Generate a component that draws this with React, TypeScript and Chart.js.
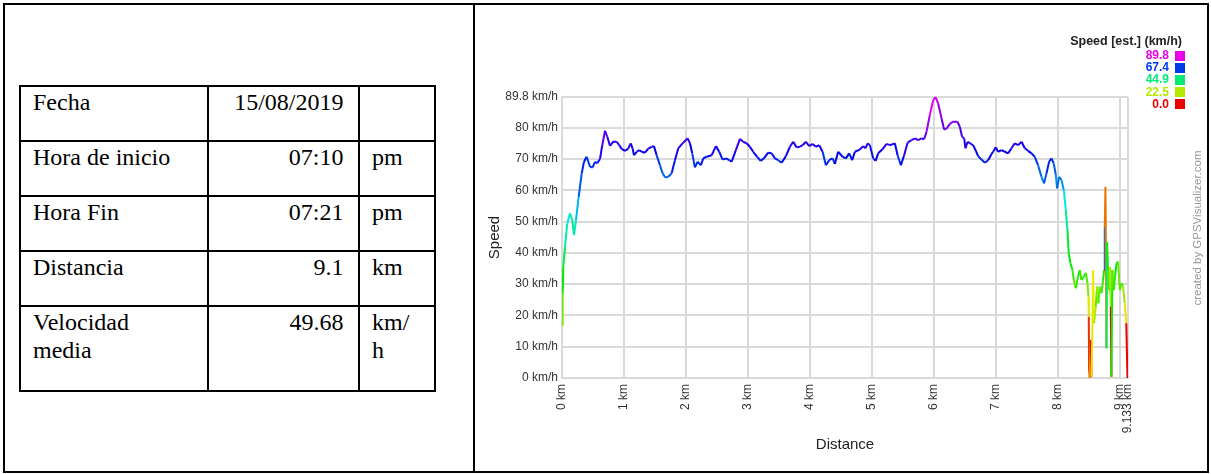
import React, { useEffect, useRef } from "react";
import { Chart, registerables } from "chart.js";

Chart.register(...registerables);

// ---- Table data ----
const tableLabels = ["Fecha", "Hora de inicio", "Hora Fin", "Distancia", "Velocidad\nmedia"];
const tableValues = ["15/08/2019", "07:10", "07:21", "9.1", "49.68"];
const tableUnits = ["", "pm", "pm", "km", "km/\nh"];

// ---- Chart data ----
const distanceKm = [
  0, 0.011, 0.021, 0.048, 0.085, 0.129, 0.166, 0.194, 0.226, 0.269,
  0.318, 0.355, 0.398, 0.452, 0.495, 0.532, 0.569, 0.613, 0.65, 0.694,
  0.731, 0.774, 0.827, 0.882, 0.924, 0.963, 1.016, 1.069, 1.108, 1.14,
  1.161, 1.205, 1.247, 1.285, 1.339, 1.392, 1.447, 1.484, 1.527, 1.581,
  1.624, 1.666, 1.715, 1.769, 1.823, 1.876, 1.956, 2.027, 2.065, 2.102,
  2.145, 2.189, 2.242, 2.279, 2.334, 2.415, 2.484, 2.537, 2.592, 2.645,
  2.698, 2.737, 2.806, 2.871, 2.924, 2.979, 3.032, 3.085, 3.15, 3.205,
  3.258, 3.327, 3.382, 3.435, 3.489, 3.544, 3.613, 3.677, 3.731, 3.785,
  3.839, 3.882, 3.935, 3.989, 4.044, 4.097, 4.15, 4.205, 4.258, 4.311,
  4.366, 4.403, 4.456, 4.527, 4.581, 4.634, 4.682, 4.726, 4.806, 4.86,
  4.898, 4.931, 4.968, 5.021, 5.06, 5.102, 5.166, 5.237, 5.29, 5.371,
  5.415, 5.468, 5.521, 5.576, 5.64, 5.694, 5.747, 5.802, 5.844, 5.882,
  5.935, 5.989, 6.027, 6.069, 6.124, 6.166, 6.205, 6.258, 6.311, 6.382,
  6.419, 6.456, 6.489, 6.511, 6.544, 6.597, 6.634, 6.673, 6.715, 6.769,
  6.823, 6.876, 6.931, 6.956, 7.0, 7.037, 7.092, 7.145, 7.198, 7.253,
  7.306, 7.36, 7.415, 7.468, 7.521, 7.576, 7.629, 7.682, 7.737, 7.779,
  7.818, 7.86, 7.898, 7.935, 7.968, 7.989, 8.021, 8.06, 8.097, 8.129,
  8.156, 8.177, 8.205, 8.237, 8.258, 8.29, 8.327, 8.355, 8.382, 8.419,
  8.452, 8.479, 8.495, 8.5, 8.505, 8.516, 8.532, 8.544, 8.56, 8.569,
  8.585, 8.613, 8.634, 8.656, 8.677, 8.705, 8.731, 8.747, 8.758, 8.769,
  8.779, 8.785, 8.795, 8.811, 8.827, 8.839, 8.855, 8.866, 8.881, 8.903,
  8.924, 8.947, 8.973, 9.0, 9.027, 9.053, 9.081, 9.105, 9.125,
];
const speedKmh = [
  17, 27, 35.5, 42, 49.4, 52.6, 50.5, 45.7, 50.5, 57.9,
  65.4, 69.1, 70.7, 67.5, 67.3, 69.1, 68.6, 70, 74.4, 79,
  77.1, 74.2, 75.5, 75.5, 74.4, 73.2, 72.6, 73.3, 75, 73.3,
  71.2, 72.3, 72.8, 72.3, 72, 73.3, 73.9, 74.1, 71.2, 68,
  65.4, 64.1, 64.3, 65.4, 69.6, 73.4, 75.2, 76.6, 75, 71.8,
  67.3, 69.1, 68, 70.2, 70.7, 71.2, 74.1, 72.3, 69.8, 70.2,
  69.6, 69.1, 72.8, 76.4, 75.5, 75, 73.9, 72.3, 70.7, 69.4,
  70.2, 72, 71.8, 70.2, 69.6, 68.8, 70.9, 73.9, 75.5, 73.7,
  73.9, 74.4, 75.5, 74.1, 74.8, 73.9, 74.4, 72.3, 68, 69.6,
  70.2, 68.4, 72.3, 70.7, 70.2, 71.8, 69.6, 72.3, 73, 74.1,
  73.4, 75, 74.4, 70.2, 69.4, 71.8, 73, 74.8, 74.4, 75,
  71.2, 68, 71.2, 75.2, 76, 76.6, 76, 76.6, 76.3, 78.7,
  84, 88.8, 89.8, 87.8, 83, 79.4, 79.7, 81.2, 81.9, 81.9,
  80.3, 77.1, 76.6, 73.4, 75.5, 74.8, 74.4, 72.8, 70.9, 69.8,
  68.8, 69.6, 71.6, 72.3, 73.7, 72.3, 72.8, 72.3, 71.8, 73.4,
  75, 74.4, 75.5, 73.4, 72.6, 71.8, 70.7, 68, 64.3, 62.2,
  65.4, 69.1, 70.2, 68.6, 64.9, 60.6, 64.3, 63.3, 60.1, 53.7,
  47.3, 39.8, 36.6, 34.5, 31.3, 28.7, 32.4, 34.5, 31.3, 32.4,
  33.6, 30.3, 26, 19.6, 3.6, 0, 12.1, 0.4, 17.5, 34.5,
  17.5, 22.8, 29.2, 23.9, 29.2, 27.1, 31.3, 34.5, 48.3, 61.1,
  35.5, 9.5, 43.5, 34.5, 28.1, 35.5, 22.8, 0.4, 34.5, 28.1,
  32.4, 36.6, 37.2, 28.1, 30.3, 29.2, 23.9, 17.5, 0,
];
// estimated speed used for colouring where it differs from the plotted value
const colorOverrideKm = [8.569, 8.758, 8.769];
const colorOverrideSpeed = [18, 63, 9];

const xTicks = [0, 1, 2, 3, 4, 5, 6, 7, 8, 9, 9.133];
const yTicks = [0, 10, 20, 30, 40, 50, 60, 70, 80, 89.8];
const legendValues = [89.8, 67.4, 44.9, 22.5, 0.0];
const maxSpeed = 89.8;

function speedColor(v: number): string {
  const t = Math.max(0, Math.min(1, v / maxSpeed));
  return `hsl(${Math.round(t * 300)}, 100%, 46%)`;
}

const SANS = "'Liberation Sans', Arial, sans-serif";
const SERIF = "'Liberation Serif', 'Times New Roman', serif";

function Line({ x, y, w, h }: { x: number; y: number; w: number; h: number }) {
  return <div style={{ position: "absolute", left: x, top: y, width: w, height: h, background: "#000" }} />;
}

function TextBlock({ text, left, right, top }: { text: string; left?: number; right?: number; top: number }) {
  const lines = text.split("\n");
  const style: React.CSSProperties = {
    position: "absolute",
    top,
    fontFamily: SERIF,
    fontSize: 24,
    lineHeight: "28px",
    color: "#000",
    whiteSpace: "nowrap",
  };
  if (left !== undefined) style.left = left;
  if (right !== undefined) {
    style.left = right - 300;
    style.width = 300;
    style.textAlign = "right";
  }
  return (
    <div style={style}>
      {lines.map((l, i) => (
        <div key={i}>{l}</div>
      ))}
    </div>
  );
}

export default function App() {
  const canvasRef = useRef<HTMLCanvasElement | null>(null);

  useEffect(() => {
    const canvas = canvasRef.current;
    if (!canvas) return;
    const points = distanceKm.map((d, i) => ({ x: d, y: speedKmh[i] }));
    const override = (i: number) => colorOverrideKm.indexOf(distanceKm[i]);
    const segColor = (ctx: any) => {
      const k1 = override(ctx.p1DataIndex);
      if (k1 >= 0) return speedColor(colorOverrideSpeed[k1]);
      const k0 = override(ctx.p0DataIndex);
      if (k0 >= 0) return speedColor(colorOverrideSpeed[k0]);
      return speedColor(speedKmh[ctx.p1DataIndex]);
    };
    const chart = new Chart(canvas, {
      type: "line",
      data: {
        datasets: [
          {
            data: points,
            borderWidth: 2,
            pointRadius: 0,
            tension: 0,
            fill: false,
            borderColor: speedColor(70),
            segment: { borderColor: segColor },
          },
        ],
      },
      options: {
        animation: false,
        responsive: false,
        maintainAspectRatio: false,
        layout: { padding: { left: 0, top: 92, right: 80, bottom: 0 } },
        plugins: { legend: { display: false }, tooltip: { enabled: false } },
        scales: {
          x: {
            type: "linear",
            min: 0,
            max: 9.133,
            afterBuildTicks: (s: any) => {
              s.ticks = xTicks.map((v) => ({ value: v }));
            },
            afterFit: (s: any) => {
              s.height = 93;
            },
            ticks: {
              autoSkip: false,
              maxRotation: 90,
              minRotation: 90,
              padding: 6,
              color: "#333",
              font: { family: SANS, size: 12 },
              callback: (v: any) => `${v} km`,
            },
            grid: { color: "#dadada", lineWidth: 2, drawTicks: false },
            border: { color: "#dadada", width: 2 },
            title: {
              display: true,
              text: "Distance",
              color: "#222",
              font: { family: SANS, size: 15 },
              padding: { top: 0, bottom: 17 },
            },
          },
          y: {
            type: "linear",
            min: 0,
            max: 89.8,
            afterBuildTicks: (s: any) => {
              s.ticks = yTicks.map((v) => ({ value: v }));
            },
            afterFit: (s: any) => {
              s.width = 86;
            },
            ticks: {
              autoSkip: false,
              padding: 4,
              color: "#333",
              font: { family: SANS, size: 12 },
              callback: (v: any) => `${v} km/h`,
            },
            grid: { color: "#dadada", lineWidth: 2, drawTicks: false },
            border: { color: "#dadada", width: 2 },
            title: {
              display: true,
              text: "Speed",
              color: "#222",
              font: { family: SANS, size: 15 },
              padding: { top: 10, bottom: 0 },
            },
          },
        },
      } as any,
    });
    return () => chart.destroy();
  }, []);

  const rowTops = [86, 141, 196, 251, 306];
  const rowBottom = 391;

  return (
    <div
      style={{
        position: "absolute",
        left: 0,
        top: 0,
        width: 1211,
        height: 474,
        background: "#fff",
        overflow: "hidden",
      }}
    >
      {/* chart canvas */}
      <canvas
        ref={canvasRef}
        width={732}
        height={466}
        style={{ position: "absolute", left: 476, top: 5, width: 732, height: 466 }}
      />

      {/* outer frame */}
      <Line x={3} y={3} w={1206} h={2} />
      <Line x={3} y={471} w={1206} h={2} />
      <Line x={3} y={3} w={2} h={470} />
      <Line x={473} y={3} w={2} h={470} />
      <Line x={1207} y={3} w={2} h={470} />

      {/* inner table lines */}
      {rowTops.map((t, i) => (
        <Line key={"r" + i} x={19} y={t - 1} w={417} h={2} />
      ))}
      <Line x={19} y={rowBottom - 1} w={417} h={2} />
      <Line x={19} y={85} w={2} h={307} />
      <Line x={207} y={85} w={2} h={307} />
      <Line x={358} y={85} w={2} h={307} />
      <Line x={434} y={85} w={2} h={307} />

      {tableLabels.map((t, i) => (
        <TextBlock key={"l" + i} text={t} left={33} top={rowTops[i] + 2} />
      ))}
      {tableValues.map((t, i) => (
        <TextBlock key={"v" + i} text={t} right={343.5} top={rowTops[i] + 2} />
      ))}
      {tableUnits.map((t, i) => (
        <TextBlock key={"u" + i} text={t} left={372} top={rowTops[i] + 2} />
      ))}

      {/* colour legend */}
      <div
        style={{
          position: "absolute",
          left: 1000,
          width: 182,
          top: 34,
          textAlign: "right",
          fontFamily: SANS,
          fontWeight: "bold",
          fontSize: 12.5,
          lineHeight: "14px",
          color: "#222",
          whiteSpace: "nowrap",
        }}
      >
        Speed [est.] (km/h)
      </div>
      {legendValues.map((v, i) => (
        <React.Fragment key={"lg" + i}>
          <div
            style={{
              position: "absolute",
              left: 1069,
              width: 100,
              top: 49 + i * 12.2,
              textAlign: "right",
              fontFamily: SANS,
              fontWeight: "bold",
              fontSize: 12,
              lineHeight: "13px",
              color: speedColor(v),
            }}
          >
            {v.toFixed(1)}
          </div>
          <div
            style={{
              position: "absolute",
              left: 1175,
              top: 50.5 + i * 12.2,
              width: 10,
              height: 10,
              background: speedColor(v),
            }}
          />
        </React.Fragment>
      ))}

      {/* credit */}
      <div
        style={{
          position: "absolute",
          left: 1197 - 100,
          top: 228 - 7,
          width: 200,
          height: 14,
          lineHeight: "14px",
          textAlign: "center",
          fontFamily: SANS,
          fontSize: 11.5,
          color: "#999",
          transform: "rotate(-90deg)",
          whiteSpace: "nowrap",
        }}
      >
        created by GPSVisualizer.com
      </div>
    </div>
  );
}
